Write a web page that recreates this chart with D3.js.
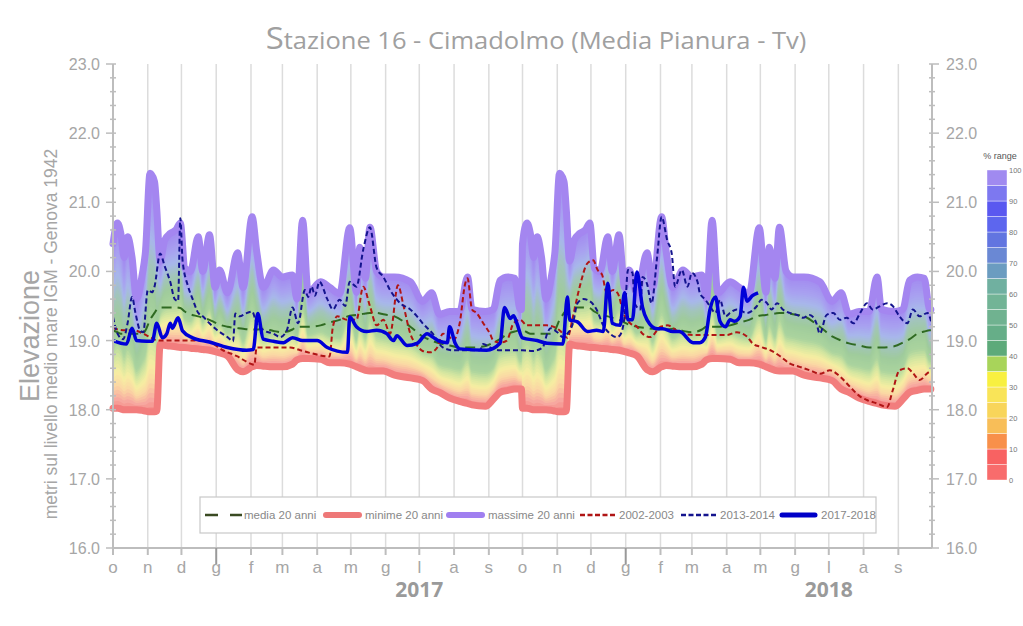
<!DOCTYPE html>
<html><head><meta charset="utf-8">
<script src="https://cdn.jsdelivr.net/npm/d3@7"></script>
<style>body{margin:0;background:#fff}svg{display:block;font-family:"Liberation Sans",Arial,sans-serif}</style>
</head><body><svg id="chart" width="1023" height="626"></svg>
<script>
// ---------------- DATA ----------------
const monthLabels = ["o","n","d","g","f","m","a","m","g","l","a","s"];
const yearLabels = [{year:"2017", mid:[2017,6,1]}, {year:"2018", mid:[2018,6,1]}];
const yTicks = [16,17,18,19,20,21,22,23];
const rangeTicks = [0,10,20,30,40,50,60,70,80,90,100];
const rangeColors = ["#f86c6c","#f86262","#f8904a","#f8be58","#f8d55a","#f9e458","#f8f040","#a8d45a",
  "#5daa7a","#66ae88","#70b290","#72b496","#70b0a0","#6b9cc0","#6a88d4","#6275e0","#5d66ee","#5a58f0","#7d78f0","#a08af0"];

// climatology (20 years), day of hydrological year (0 = 1 Oct)
const climDay = [0,4,7,10,13,17,21,26,29,33,37,39,42,46,51,56,60,64,69,76,80,86,91,95,102,111,116,124,128,134,
  143,151,160,164,169,174,185,193,202,211,217,220,225,229,235,241,251,265,276,284,291,300,309,316,320,332,339,345,352,358,363,364];
const climMax = [20.4,20.7,20.55,20.2,20.5,20.2,19.6,19.95,20.3,21.42,21.3,20.9,20.15,20.45,20.55,20.6,20.7,20.05,20.0,20.5,
  20.0,20.53,19.77,20.02,19.69,20.27,19.77,20.79,20.3,19.77,20.02,19.92,19.95,19.6,20.74,19.69,19.85,19.77,19.68,20.63,
  19.7,20.35,19.9,20.64,20.0,19.92,19.92,19.85,19.57,19.69,19.38,19.42,19.42,19.92,19.45,19.42,19.45,19.87,19.92,19.9,19.45,19.45];
const climMin = [18.02,18.02,18.01,18.0,18.0,18.0,18.0,17.99,17.98,17.97,17.97,17.98,18.95,18.93,18.92,18.91,18.9,18.9,18.89,18.88,
  18.87,18.86,18.84,18.82,18.78,18.58,18.55,18.62,18.64,18.63,18.62,18.62,18.66,18.72,18.74,18.74,18.73,18.68,18.68,18.66,
  18.62,18.6,18.57,18.56,18.56,18.56,18.5,18.46,18.42,18.3,18.25,18.17,18.12,18.09,18.07,18.05,18.15,18.25,18.28,18.3,18.3,18.3];
const climMedia = [19.15,19.12,19.1,19.1,19.1,19.1,19.1,19.1,19.15,19.3,19.4,19.45,19.48,19.48,19.48,19.48,19.47,19.42,19.38,19.35,
  19.33,19.3,19.26,19.23,19.2,19.18,19.17,19.16,19.16,19.17,19.14,19.12,19.16,19.2,19.2,19.2,19.22,19.26,19.3,19.36,
  19.37,19.38,19.39,19.4,19.4,19.38,19.35,19.2,19.06,19.0,18.96,18.93,18.9,18.9,18.9,18.92,18.97,19.02,19.1,19.13,19.15,19.15];

// yearly series: [day since 1 Oct 2016, elevation]
const s0203 = [[0,19.18],[9,19.15],[18,19.15],[27,19.1],[33,19.05],[40,19.0],[78,19.0],[86,18.98],[98,18.86],[111,18.77],[122,18.67],[126,18.65],[128,18.9],[158,18.9],[167,18.86],[176,18.82],[193,18.77],[196,19.2],[200,19.35],[209,19.3],[217,19.3],[223,19.78],[229,19.5],[235,19.22],[241,19.3],[247,19.1],[254,19.8],[259,19.5],[265,19.1],[271,18.93],[276,18.85],[283,18.83],[289,18.9],[294,19.1],[300,19.05],[303,19.0],[309,19.25],[314,19.83],[316,19.9],[320,19.45],[324,19.4],[330,19.25],[336,19.1],[339,19.0],[345,18.97],[351,19.0],[357,19.25],[363,19.3],[369,19.22],[387,19.22],[398,19.15],[405,19.04],[410,19.35],[416,19.78],[423,20.12],[428,20.16],[432,20.02],[436,19.95],[440,19.69],[446,19.73],[450,19.68],[455,19.4],[461,19.25],[467,19.2],[472,19.1],[479,19.05],[488,19.2],[494,19.22],[505,19.12],[517,19.08],[547,19.08],[556,19.12],[565,19.06],[570,18.96],[577,18.91],[586,18.86],[595,18.77],[603,18.67],[612,18.62],[621,18.57],[630,18.52],[639,18.57],[648,18.48],[657,18.33],[666,18.19],[672,18.14],[681,18.09],[690,18.04],[695,18.28],[701,18.57],[708,18.6],[713,18.53],[719,18.43],[726,18.53],[730,18.57]];
const s1314 = [[0,19.34],[4,19.1],[9,19.02],[13,19.25],[17,19.63],[20,19.4],[24,19.15],[27,19.12],[31,19.73],[35,19.7],[37,19.78],[42,20.26],[46,20.08],[51,19.85],[55,19.6],[58,19.57],[60,20.77],[62,20.16],[67,19.78],[71,19.6],[76,19.4],[80,19.35],[86,19.25],[93,19.15],[102,19.05],[107,18.99],[109,19.39],[113,19.35],[118,19.39],[124,19.42],[128,19.25],[134,19.15],[143,19.1],[149,19.05],[155,19.15],[160,19.48],[165,19.25],[171,19.73],[174,19.63],[177,19.78],[180,19.65],[184,19.85],[191,19.6],[196,19.45],[202,19.59],[207,19.5],[211,19.85],[217,19.78],[223,20.31],[229,20.64],[235,20.05],[241,19.92],[247,19.73],[256,19.54],[265,19.45],[271,19.35],[276,19.25],[285,19.1],[294,18.9],[303,18.86],[327,18.86],[330,18.95],[336,18.9],[345,18.86],[365,18.86],[374,18.85],[383,18.9],[387,19.1],[390,19.18],[396,19.12],[401,19.05],[405,19.1],[410,19.25],[414,19.54],[419,19.6],[425,19.57],[431,19.45],[437,19.22],[443,19.1],[449,19.05],[452,19.08],[456,19.35],[459,20.02],[463,19.98],[465,19.54],[470,19.45],[472,19.92],[476,19.82],[480,19.54],[485,20.21],[489,20.79],[494,20.45],[498,20.26],[501,19.78],[507,20.02],[512,19.78],[516,19.98],[521,19.85],[523,19.69],[528,19.59],[532,19.5],[537,19.4],[541,19.59],[546,19.35],[550,19.4],[556,19.45],[565,19.4],[574,19.5],[578,19.59],[583,19.54],[587,19.45],[592,19.54],[597,19.45],[603,19.4],[610,19.37],[615,19.33],[621,19.37],[627,19.25],[630,19.1],[636,19.37],[642,19.4],[648,19.3],[654,19.33],[660,19.25],[666,19.4],[672,19.54],[677,19.45],[684,19.5],[690,19.54],[695,19.5],[701,19.35],[708,19.25],[713,19.45],[719,19.35],[726,19.4],[730,19.22]];
const s1718 = [[0,19.0],[12,18.95],[17,19.18],[21,19.0],[30,18.99],[35,18.99],[39,19.25],[44,19.04],[48,19.1],[51,19.25],[53,19.18],[58,19.33],[62,19.14],[71,19.04],[86,18.98],[102,18.9],[119,18.86],[125,18.87],[129,19.39],[134,19.02],[143,18.99],[152,18.97],[160,19.04],[169,19.0],[182,19.0],[191,18.9],[209,18.83],[211,19.34],[217,19.2],[226,19.13],[235,19.15],[244,19.1],[250,19.0],[253,19.07],[262,18.93],[271,18.96],[280,19.1],[285,19.05],[291,18.99],[298,18.97],[300,19.2],[305,18.96],[309,18.88],[333,18.86],[345,18.96],[349,19.48],[354,19.32],[357,19.36],[360,19.25],[365,19.04],[378,19.0],[387,18.96],[401,18.95],[405,19.63],[407,19.3],[414,19.27],[423,19.13],[431,19.15],[437,19.13],[441,19.83],[445,19.25],[452,19.22],[456,19.69],[459,19.3],[463,19.3],[467,19.99],[472,19.48],[476,19.3],[485,19.17],[490,19.17],[499,19.13],[505,19.13],[517,18.97],[523,18.97],[528,19.05],[532,19.44],[537,19.63],[541,19.28],[546,19.2],[550,19.3],[554,19.28],[559,19.35],[562,19.77],[565,19.57],[570,19.65],[575,19.69]];

// ---------------- CHART ----------------
const svg = d3.select("#chart");
svg.append("rect").attr("width",1023).attr("height",626).attr("fill","#fff");
const t0 = new Date(2016,9,1), t1 = new Date(2018,9,1);
const x = d3.scaleTime().domain([t0,t1]).range([113,932]);
const y = d3.scaleLinear().domain([16,23]).range([548,64]);
const X = d => x(d3.timeDay.offset(t0, d));
const months = d3.timeMonth.range(t0, t1);
const axisCol = "#bdbdbd", txtCol = "#a6a6a6";

// gridlines
svg.append("g").selectAll("line").data(months.slice(1)).join("line")
  .attr("x1",d=>x(d)).attr("x2",d=>x(d)).attr("y1",y(23)).attr("y2",y(16))
  .attr("stroke","#dcdcdc").attr("stroke-width",1.5);

// climatology for both hydrological years
const clim = [];
[0,365].forEach(off => climDay.forEach((d,i) => clim.push({d:d+off, min:climMin[i], max:climMax[i], med:climMedia[i]})));

const stopPos = [0,0.05,0.12,0.2,0.28,0.36,0.5,0.62,0.72,0.84,1];
const stopCol = ["#f58a88","#f7a8a0","#fad6a4","#f6eea2","#d4e6a0","#abd49e","#9fcb9c","#a2c4bc","#a8b8ea","#a8a0f0","#a288f0"];
const colorAt = d3.scaleLinear().domain(stopPos).range(stopCol).interpolate(d3.interpolateRgb);
const band = svg.append("g");
const N = 50;
for (let k=N; k>=1; k--) {
  const f = k/N;
  const ar = d3.area().curve(d3.curveMonotoneX).x(p=>X(p.d))
    .y0(p=>y(p.min)).y1(p=>y(p.min + f*(p.max-p.min)));
  band.append("path").datum(clim).attr("d", ar).attr("fill", colorAt((k-0.5)/N));
}
const lineClim = key => d3.line().curve(d3.curveMonotoneX).x(p=>X(p.d)).y(p=>y(p[key]));
svg.append("path").datum(clim).attr("d", lineClim("max")).attr("fill","none")
  .attr("stroke","#a486f0").attr("stroke-width",7).attr("stroke-linejoin","round").attr("stroke-linecap","round");
svg.append("path").datum(clim).attr("d", lineClim("min")).attr("fill","none")
  .attr("stroke","#f27d7d").attr("stroke-width",7).attr("stroke-linejoin","round").attr("stroke-linecap","round");
svg.append("path").datum(clim).attr("d", lineClim("med")).attr("fill","none")
  .attr("stroke","#2f6a22").attr("stroke-width",2).attr("stroke-dasharray","10,6");

const lineS = d3.line().curve(d3.curveMonotoneX).x(p=>X(p[0])).y(p=>y(p[1]));
svg.append("path").datum(s0203).attr("d", lineS).attr("fill","none")
  .attr("stroke","#b01515").attr("stroke-width",2).attr("stroke-dasharray","5,3");
svg.append("path").datum(s1314).attr("d", lineS).attr("fill","none")
  .attr("stroke","#14148e").attr("stroke-width",2).attr("stroke-dasharray","5,3");
svg.append("path").datum(s1718).attr("d", lineS).attr("fill","none")
  .attr("stroke","#0000d8").attr("stroke-width",3.5).attr("stroke-linejoin","round");

// axes
const ax = svg.append("g");
ax.append("line").attr("x1",113).attr("x2",113).attr("y1",y(23)).attr("y2",y(16)).attr("stroke",axisCol).attr("stroke-width",2);
ax.append("line").attr("x1",932).attr("x2",932).attr("y1",y(23)).attr("y2",y(16)).attr("stroke",axisCol).attr("stroke-width",2);
ax.append("line").attr("x1",113).attr("x2",932).attr("y1",y(16)).attr("y2",y(16)).attr("stroke",axisCol).attr("stroke-width",2);
const minor = d3.range(16,23.001,0.2);
ax.selectAll(".mn").data(minor).join("g").each(function(v){
  const g=d3.select(this), major=Math.abs(v-Math.round(v))<1e-6;
  g.append("line").attr("x1",major?106:110).attr("x2",116).attr("y1",y(v)).attr("y2",y(v)).attr("stroke",axisCol).attr("stroke-width",1.5);
  g.append("line").attr("x1",929).attr("x2",major?939:935).attr("y1",y(v)).attr("y2",y(v)).attr("stroke",axisCol).attr("stroke-width",1.5);
});
ax.selectAll(".yl").data(yTicks).join("text").attr("x",100).attr("y",v=>y(v)+6)
  .attr("text-anchor","end").attr("font-size",16).attr("fill",txtCol).text(v=>v.toFixed(1));
ax.selectAll(".yr").data(yTicks).join("text").attr("x",946).attr("y",v=>y(v)+6)
  .attr("text-anchor","start").attr("font-size",16).attr("fill",txtCol).text(v=>v.toFixed(1));
// month ticks and labels
ax.selectAll(".mt").data(months).join("line")
  .attr("x1",d=>x(d)).attr("x2",d=>x(d)).attr("y1",y(16))
  .attr("y2",d=>d.getMonth()===0?564:555)
  .attr("stroke",d=>d.getMonth()===0?"#999":axisCol).attr("stroke-width",2);
ax.selectAll(".ml").data(months).join("text").attr("x",d=>x(d)).attr("y",573)
  .attr("text-anchor","middle").attr("font-size",17).attr("fill",txtCol)
  .text(d=>monthLabels[(d.getMonth()+3)%12]);
ax.selectAll(".yy").data(yearLabels).join("text").attr("x",d=>x(new Date(...d.mid))).attr("y",597)
  .attr("text-anchor","middle").attr("font-size",21).attr("font-weight","bold")
  .attr("font-family","'Open Sans',sans-serif").attr("fill","#9a9a9a").text(d=>d.year);

// title
const title = svg.append("text").attr("x",536).attr("y",49).attr("text-anchor","middle")
  .attr("fill","#a0a0a0").attr("font-family","'Open Sans',sans-serif").attr("font-size",24);
title.append("tspan").attr("font-size",31).text("S");
title.append("tspan").text("tazione 16 - Cimadolmo (Media Pianura - Tv)");
const tw = title.node().getBBox().width;
title.attr("transform",`translate(536,0) scale(${541/tw},1) translate(-536,0)`);

// y axis titles
svg.append("text").attr("transform","translate(39,336) rotate(-90)").attr("text-anchor","middle")
  .attr("font-size",27).attr("fill","#a6a6a6").text("Elevazione");
svg.append("text").attr("transform","translate(57,334) rotate(-90)").attr("text-anchor","middle")
  .attr("font-size",17.5).attr("fill","#a6a6a6").text("metri  sul livello medio mare  IGM - Genova 1942");

// legend
const lg = svg.append("g");
lg.append("rect").attr("x",200).attr("y",497).attr("width",676).attr("height",36)
  .attr("fill","#fff").attr("stroke","#c8c8c8").attr("stroke-width",1.2);
const legendItems = [
  {label:"media 20 anni", x:205, stroke:"#3a4a22", w:2.5, dash:"13,12", cap:"butt"},
  {label:"minime 20 anni", x:326, stroke:"#ee7878", w:6, dash:null, cap:"round"},
  {label:"massime 20 anni", x:449, stroke:"#a07ff0", w:6, dash:null, cap:"round"},
  {label:"2002-2003", x:580, stroke:"#b01515", w:2.5, dash:"5,2.5", cap:"butt"},
  {label:"2013-2014", x:681, stroke:"#14148e", w:2.5, dash:"5,2.5", cap:"butt"},
  {label:"2017-2018", x:782, stroke:"#0000c8", w:5, dash:null, cap:"round"}
];
legendItems.forEach(it=>{
  const len = it.cap==="round" ? 33 : 37;
  lg.append("line").attr("x1",it.x).attr("x2",it.x+len).attr("y1",515).attr("y2",515)
    .attr("stroke",it.stroke).attr("stroke-width",it.w).attr("stroke-dasharray",it.dash)
    .attr("stroke-linecap",it.cap);
  lg.append("text").attr("x",it.x+39).attr("y",519).attr("font-size",11.5).attr("fill","#888").text(it.label);
});

// colour scale
const cb = svg.append("g");
const cy = d3.scaleLinear().domain([0,100]).range([480,170]);
cb.selectAll("rect").data(rangeColors).join("rect")
  .attr("x",987).attr("width",20).attr("y",(c,i)=>cy((i+1)*5)).attr("height",cy(0)-cy(5))
  .attr("fill",c=>c).attr("stroke","#fff").attr("stroke-width",0.4);
cb.selectAll("text").data(rangeTicks).join("text").attr("x",1009).attr("y",v=>cy(v)+2.5)
  .attr("font-size",7.5).attr("fill","#777").text(v=>v);
cb.append("text").attr("x",1000).attr("y",159).attr("text-anchor","middle").attr("font-size",9).attr("fill","#555").text("% range");
</script></body></html>
